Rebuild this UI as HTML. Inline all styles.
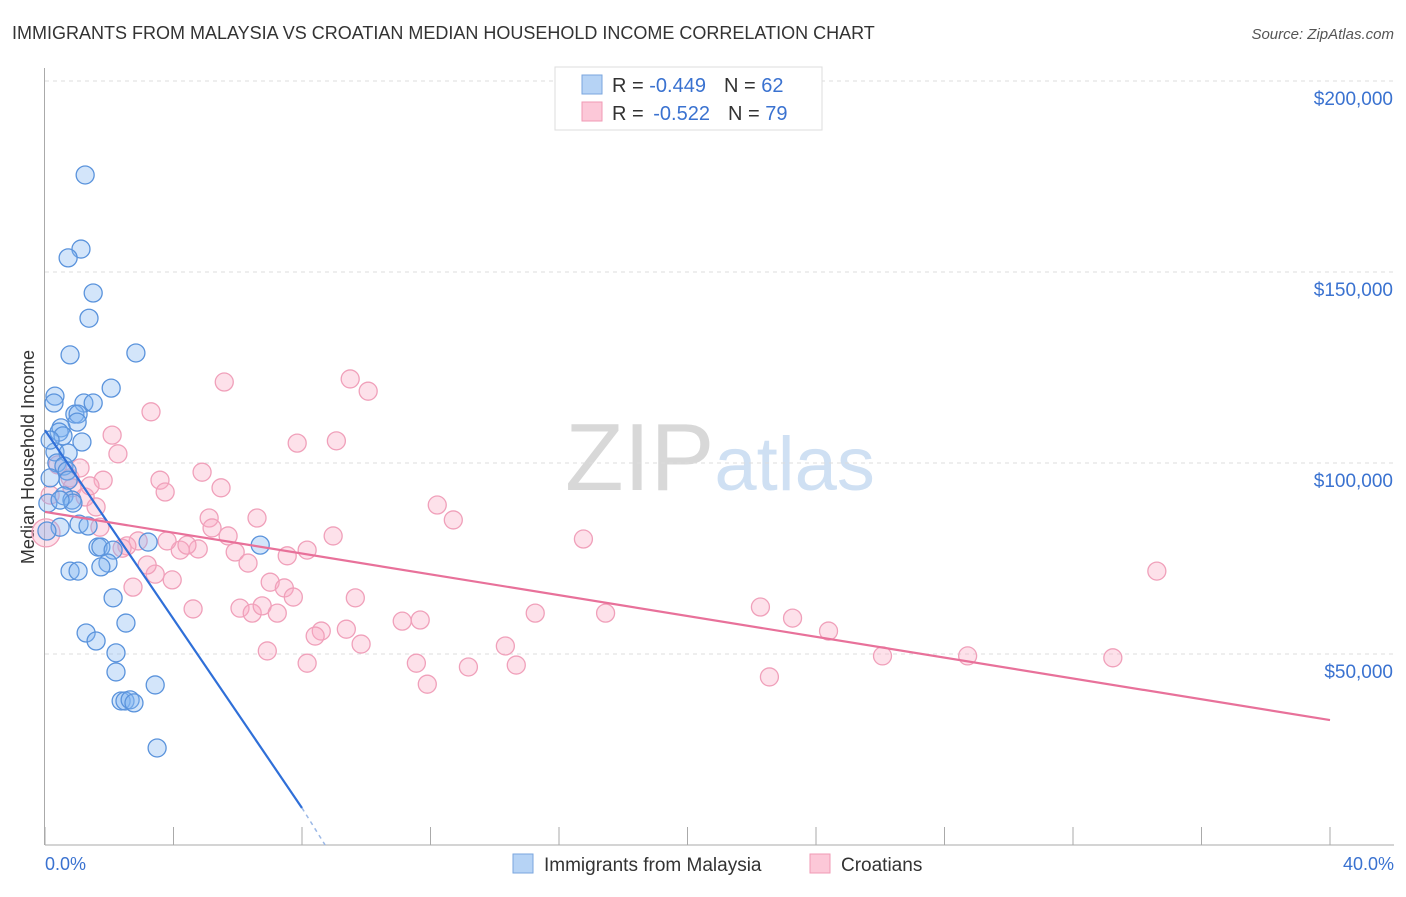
<!DOCTYPE html>
<html><head><meta charset="utf-8"><style>
body{margin:0;background:#fff;font-family:"Liberation Sans",sans-serif;}
svg text{font-family:"Liberation Sans",sans-serif;}
</style></head><body>
<svg id="chart" width="1406" height="892" xmlns="http://www.w3.org/2000/svg">
<text x="12" y="39" font-size="18" fill="#333">IMMIGRANTS FROM MALAYSIA VS CROATIAN MEDIAN HOUSEHOLD INCOME CORRELATION CHART</text>
<text x="1394" y="39" font-size="15" fill="#555" text-anchor="end" font-style="italic">Source: ZipAtlas.com</text>
<text x="720" y="490" font-size="96" fill="#ddd" text-anchor="middle" font-family="Liberation Serif"><tspan fill="#d8d8d8">ZIP</tspan><tspan fill="#cfe0f3" font-family="Liberation Sans" font-size="76">atlas</tspan></text>
<text transform="translate(34,457) rotate(-90)" font-size="18" fill="#333" text-anchor="middle">Median Household Income</text>
<g id="grid"></g><g id="pts"></g><g id="lines"></g>
<g>
<rect x="555" y="67" width="267" height="63" fill="#fff" stroke="#ddd"/>
<rect x="582" y="75" width="20" height="19" fill="#b6d3f5" stroke="#7aa6de"/>
<rect x="582" y="102" width="20" height="19" fill="#fcc8d8" stroke="#f09ab5"/>
<text x="612" y="92" font-size="20" fill="#333">R = <tspan fill="#3a72d0">-0.449</tspan><tspan dx="18">N = </tspan><tspan fill="#3a72d0">62</tspan></text>
<text x="612" y="120" font-size="20" fill="#333">R = <tspan fill="#3a72d0" dx="4">-0.522</tspan><tspan dx="18">N = </tspan><tspan fill="#3a72d0">79</tspan></text>
</g>
<g>
<rect x="513" y="854" width="20" height="19" fill="#b6d3f5" stroke="#7aa6de"/>
<text x="544" y="871" font-size="19" fill="#333">Immigrants from Malaysia</text>
<rect x="810" y="854" width="20" height="19" fill="#fcc8d8" stroke="#f09ab5"/>
<text x="841" y="871" font-size="19" fill="#333">Croatians</text>
</g>
<text x="45" y="870" font-size="18" fill="#3a72d0">0.0%</text>
<text x="1394" y="870" font-size="18" fill="#3a72d0" text-anchor="end">40.0%</text>
</svg>
<script>
const yTicks=[50000,100000,150000,200000];
const yTickLabels=["$50,000","$100,000","$150,000","$200,000"];
const xTicks=[0,4,8,12,16,20,24,28,32,36,40];
const blueX=[1.25,1.12,0.72,1.50,1.37,2.83,0.78,2.06,0.31,0.28,1.21,1.50,0.93,1.03,1.00,0.50,0.44,0.56,1.15,0.31,0.72,0.37,0.59,0.69,0.72,0.16,0.59,0.84,0.87,0.09,1.06,1.34,0.47,0.06,3.21,1.65,1.74,2.12,6.70,1.96,1.74,0.78,1.03,2.12,2.52,1.28,1.59,2.21,2.21,3.43,2.37,2.49,2.65,2.77,3.49,0.47,0.16];
const blueY=[175.4,156.0,153.7,144.5,137.9,128.8,128.3,119.6,117.5,115.7,115.7,115.7,112.8,112.8,110.7,109.2,108.1,107.1,105.5,102.9,102.6,100.0,99.2,97.9,95.5,96.1,91.4,90.3,89.5,89.5,84.0,83.5,83.2,82.2,79.3,78.0,78.0,77.2,78.5,73.8,72.8,71.7,71.7,64.7,58.1,55.5,53.4,50.3,45.3,41.9,37.7,37.7,38.0,37.2,25.4,90.3,106.0];
const pinkX=[0.16,0.40,0.78,1.09,0.84,1.25,1.59,1.81,2.09,2.27,3.58,3.74,3.30,5.58,4.89,5.48,5.11,5.20,5.70,6.60,7.85,9.07,9.50,10.06,12.21,12.71,16.76,8.97,8.16,7.54,5.92,4.77,4.21,4.42,3.80,3.43,3.96,2.90,2.55,2.40,2.74,6.32,7.01,7.45,7.73,4.61,6.07,6.45,6.76,7.23,9.66,8.60,8.41,9.38,9.84,6.92,8.16,11.12,11.68,11.56,11.90,13.18,14.33,14.67,15.26,17.45,22.27,23.27,24.39,26.07,28.72,22.55,33.24,34.61,1.40,1.71,3.18,0.03];
const pinkY=[91.6,99.5,96.1,98.7,93.5,91.1,88.5,95.5,107.3,102.4,95.5,92.4,113.4,121.2,97.6,93.5,85.6,83.0,80.9,85.6,105.2,105.8,122.0,118.8,89.0,85.1,80.1,80.9,77.2,75.7,76.7,77.5,77.2,78.5,79.6,70.9,69.4,79.6,78.3,77.7,67.5,73.8,68.8,67.3,64.9,61.8,62.0,60.7,62.6,60.7,64.7,56.0,54.7,56.5,52.6,50.8,47.6,58.6,58.9,47.6,42.1,46.6,52.1,47.1,60.7,60.7,62.3,59.4,56.0,49.5,49.5,44.0,49.0,71.7,94.0,83.2,73.3,81.7];
const blueTrendX=[0,8.0,8.72];
const blueTrendY=[108.6,9.7,0];
const pinkTrendX=[0,40];
const pinkTrendY=[87.2,32.7];
const X=v=>45+v*(1285/40);
const Y=k=>845-k*(191/50);
const NS="http://www.w3.org/2000/svg";
function mk(t,a,p){const e=document.createElementNS(NS,t);for(const k in a)e.setAttribute(k,a[k]);p.appendChild(e);return e;}
const grid=document.getElementById('grid');
yTicks.forEach((v,i)=>{
 const l=mk('line',{x1:45,x2:1394,y1:Y(v/1000),y2:Y(v/1000),stroke:'#ddd','stroke-dasharray':'4,4'},grid);
 
 
 const t=mk('text',{x:1393,y:Y(v/1000)+24,'font-size':19,fill:'#3a72d0','text-anchor':'end'},grid);
 t.textContent=yTickLabels[i];
 
 
});
const ax=mk('line',{x1:45,x2:1394,y1:845,y2:845,stroke:'#aaa'},grid);


const ay=mk('line',{x1:44.5,x2:44.5,y1:68,y2:845,stroke:'#aaa'},grid);


xTicks.forEach(v=>{const t=mk('line',{x1:X(v),x2:X(v),y1:827,y2:845,stroke:'#aaa'},grid);
 
 });
const pts=document.getElementById('pts');
pinkX.forEach((x,i)=>{const c=mk('circle',{cx:X(x),cy:Y(pinkY[i]),r:i==pinkX.length-1?14:9,fill:'rgba(248,170,195,0.35)',stroke:'#f0a0ba','stroke-width':1.3},pts);
 
 });
blueX.forEach((x,i)=>{const c=mk('circle',{cx:X(x),cy:Y(blueY[i]),r:9,fill:'rgba(130,180,240,0.35)',stroke:'#5a93dc','stroke-width':1.3},pts);
 
 });
const lines=document.getElementById('lines');
const b1=mk('line',{x1:X(blueTrendX[0]),y1:Y(blueTrendY[0]),x2:X(blueTrendX[1]),y2:Y(blueTrendY[1]),stroke:'#2f6fd8','stroke-width':2.2},lines);


const b2=mk('line',{x1:X(blueTrendX[1]),y1:Y(blueTrendY[1]),x2:X(blueTrendX[2]),y2:Y(blueTrendY[2]),stroke:'#9bb8e6','stroke-width':1.5,'stroke-dasharray':'4,4'},lines);


const p1=mk('line',{x1:X(pinkTrendX[0]),y1:Y(pinkTrendY[0]),x2:X(pinkTrendX[1]),y2:Y(pinkTrendY[1]),stroke:'#e8719a','stroke-width':2.2},lines);


</script>
</body></html>
